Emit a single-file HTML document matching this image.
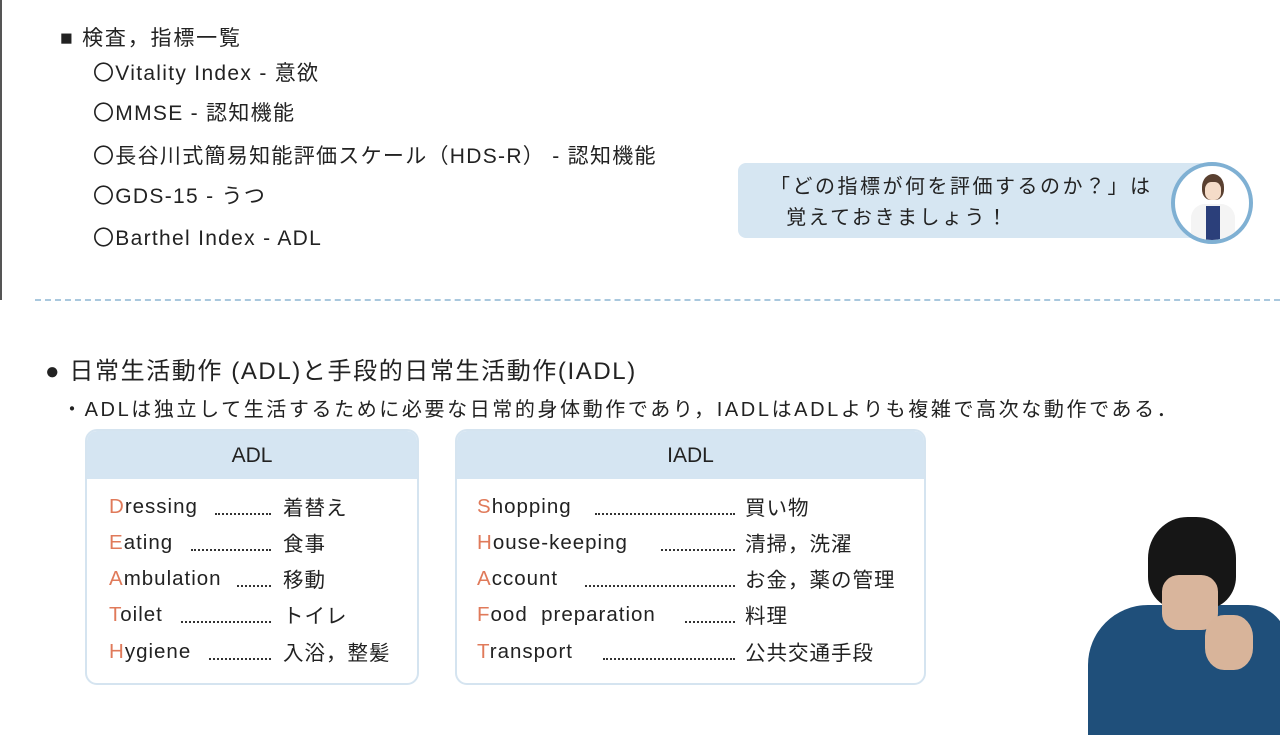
<!DOCTYPE html>
<html><head><meta charset="utf-8"><style>
body{margin:0;width:1280px;height:720px;overflow:hidden;background:#fff;font-family:"Liberation Sans","Noto Sans CJK JP",sans-serif;color:#222;position:relative}
.a{position:absolute;white-space:nowrap}
.it{font-size:21px;left:93px;letter-spacing:1.3px}
.box{position:absolute;border:2px solid #d5e4f0;border-radius:12px;background:#fff;overflow:hidden}
.hd{background:#d5e5f2;height:48px;text-align:center;line-height:50px;font-size:21px}
.row{position:absolute;font-size:20.5px;letter-spacing:1px;line-height:24px;margin-top:-2px}
.jp{position:absolute;font-size:20.5px;letter-spacing:1px;line-height:24px;margin-top:0px}
.o{color:#e07a5a}
.dots{position:absolute;border-bottom:2px dotted #333;height:0}
</style></head><body>
<div class="a" style="left:0;top:0;width:2px;height:300px;background:#555"></div>
<div class="a" style="left:60px;top:22px;font-size:21px;letter-spacing:1.8px">■ 検査，指標一覧</div>
<div class="a it" style="top:57px">〇Vitality Index - 意欲</div>
<div class="a it" style="top:97px">〇MMSE - 認知機能</div>
<div class="a it" style="top:140px">〇長谷川式簡易知能評価スケール（HDS-R） - 認知機能</div>
<div class="a it" style="top:180px">〇GDS-15 - うつ</div>
<div class="a it" style="top:222px">〇Barthel Index - ADL</div>
<div class="a" style="left:738px;top:163px;width:470px;height:75px;background:#d6e6f2;border-radius:8px"></div>
<div class="a" style="left:770px;top:172px;font-size:20px;line-height:31px;letter-spacing:2.5px">「どの指標が何を評価するのか？」は<br>&nbsp;&nbsp;覚えておきましょう！</div>
<div class="a" style="left:1171px;top:162px;width:74px;height:74px;border:4px solid #7fb0d3;border-radius:50%;background:#fff;overflow:hidden">
 <div class="a" style="left:27px;top:8px;width:22px;height:26px;background:#5a4030;border-radius:50% 50% 40% 40%"></div>
 <div class="a" style="left:30px;top:16px;width:16px;height:18px;background:#f5dcc8;border-radius:40%"></div>
 <div class="a" style="left:16px;top:38px;width:44px;height:40px;background:#f4f4f4;border-radius:14px 14px 0 0"></div>
 <div class="a" style="left:31px;top:40px;width:14px;height:36px;background:#2b3f7a"></div>
</div>
<div class="a" style="left:35px;top:299px;width:1245px;border-top:2px dashed #a9c8de"></div>
<div class="a" style="left:45px;top:351px;font-size:24px;letter-spacing:1.6px">● 日常生活動作 (ADL)と手段的日常生活動作(IADL)</div>
<div class="a" style="left:62px;top:393px;font-size:20px;letter-spacing:2.6px">・ADLは独立して生活するために必要な日常的身体動作であり，IADLはADLよりも複雑で高次な動作である．</div>
<div class="box" style="left:85px;top:429px;width:330px;height:252px"><div class="hd">ADL</div>
 <div class="row" style="left:22px;top:66px"><span class="o">D</span>ressing</div><div class="dots" style="left:128px;top:82px;width:56px"></div><div class="jp" style="left:196px;top:66px">着替え</div>
 <div class="row" style="left:22px;top:102px"><span class="o">E</span>ating</div><div class="dots" style="left:104px;top:118px;width:80px"></div><div class="jp" style="left:196px;top:102px">食事</div>
 <div class="row" style="left:22px;top:138px"><span class="o">A</span>mbulation</div><div class="dots" style="left:150px;top:154px;width:34px"></div><div class="jp" style="left:196px;top:138px">移動</div>
 <div class="row" style="left:22px;top:174px"><span class="o">T</span>oilet</div><div class="dots" style="left:94px;top:190px;width:90px"></div><div class="jp" style="left:196px;top:174px">トイレ</div>
 <div class="row" style="left:22px;top:211px"><span class="o">H</span>ygiene</div><div class="dots" style="left:122px;top:227px;width:62px"></div><div class="jp" style="left:196px;top:211px">入浴，整髪</div>
</div>
<div class="box" style="left:455px;top:429px;width:467px;height:252px"><div class="hd">IADL</div>
 <div class="row" style="left:20px;top:66px"><span class="o">S</span>hopping</div><div class="dots" style="left:138px;top:82px;width:140px"></div><div class="jp" style="left:288px;top:66px">買い物</div>
 <div class="row" style="left:20px;top:102px"><span class="o">H</span>ouse-keeping</div><div class="dots" style="left:204px;top:118px;width:74px"></div><div class="jp" style="left:288px;top:102px">清掃，洗濯</div>
 <div class="row" style="left:20px;top:138px"><span class="o">A</span>ccount</div><div class="dots" style="left:128px;top:154px;width:150px"></div><div class="jp" style="left:288px;top:138px">お金，薬の管理</div>
 <div class="row" style="left:20px;top:174px"><span class="o">F</span>ood&nbsp; preparation</div><div class="dots" style="left:228px;top:190px;width:50px"></div><div class="jp" style="left:288px;top:174px">料理</div>
 <div class="row" style="left:20px;top:211px"><span class="o">T</span>ransport</div><div class="dots" style="left:146px;top:227px;width:132px"></div><div class="jp" style="left:288px;top:211px">公共交通手段</div>
</div>
<div class="a" style="left:1088px;top:605px;width:200px;height:130px;background:#1f4f7a;border-radius:60px 40px 0 0"></div>
<div class="a" style="left:1148px;top:517px;width:88px;height:92px;background:#161616;border-radius:45% 45% 35% 35%"></div>
<div class="a" style="left:1162px;top:575px;width:56px;height:55px;background:#d9b59c;border-radius:30%"></div>
<div class="a" style="left:1205px;top:615px;width:48px;height:55px;background:#d8b49a;border-radius:40%"></div>
</body></html>
